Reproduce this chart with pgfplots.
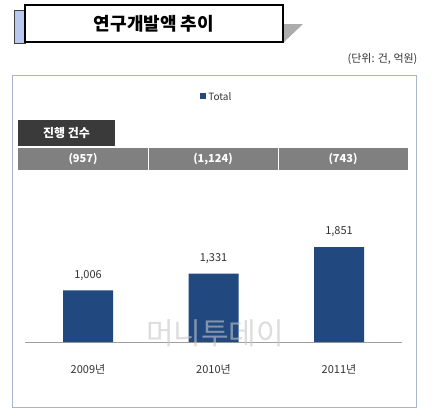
\documentclass[border=0pt]{standalone}
\usepackage{fontspec}
\setmainfont{Noto Sans CJK KR}
\usepackage{pgfplots}
\pgfplotsset{compat=1.18}
\definecolor{barblue}{RGB}{33,73,128}
\definecolor{framec}{RGB}{168,180,203}
\definecolor{titleblue}{RGB}{184,200,238}
\definecolor{darkbox}{RGB}{58,58,58}
\definecolor{rowgray}{RGB}{128,128,128}
\definecolor{txt}{RGB}{50,50,50}

\begin{document}
\begin{tikzpicture}[x=1pt,y=1pt]
\path (0,0) rectangle (432,-416);
% title box
\fill[gray!65] (283,-24) -- (303,-24) -- (283,-43) -- cycle;
\draw[fill=titleblue, draw=black!75, line width=0.8pt] (14,-10) rectangle (25,-43);
\draw[fill=white, line width=1.3pt] (25,-5) rectangle (283,-42);
\node[font=\fontsize{18}{20}\selectfont\bfseries] at (154,-24) {연구개발액 추이};
\node[anchor=east, text=black!80, font=\fontsize{11}{13}\selectfont] at (421,-59) {(단위: 건, 억원)};
% frame
\draw[framec, line width=0.8pt] (12,-75) rectangle (416,-407);
% count table
\fill[darkbox] (18,-120) rectangle (115,-146);
\node[white, font=\fontsize{12}{14}\selectfont\bfseries] at (66.5,-133) {진행 건수};
\fill[rowgray] (18,-148) rectangle (408,-170);
\draw[white, line width=1pt] (148,-148) -- (148,-170) (278,-148) -- (278,-170);
\node[white, font=\fontsize{11}{13}\selectfont\bfseries] at (83,-159) {(957)};
\node[white, font=\fontsize{11}{13}\selectfont\bfseries] at (213,-159) {(1,124)};
\node[white, font=\fontsize{11}{13}\selectfont\bfseries] at (343,-159) {(743)};

\begin{axis}[
    at={(25pt,-342pt)}, anchor=south west,
    x=125.5pt, y=0.0513pt,
    xmin=-0.502, xmax=2.502, ymin=0, ymax=2000,
    ybar, bar width=50pt,
    axis y line=none,
    axis x line*=bottom,
    x axis line style={draw=gray!75, line width=0.8pt, -},
    xtick={0,1,2},
    xticklabels={2009년,2010년,2011년},
    major tick length=0pt,
    xticklabel style={anchor=center, yshift=-27pt, text=txt, font=\fontsize{11}{13}\selectfont},
    /pgf/number format/assume math mode=true,
    /pgf/number format/1000 sep={,},
    nodes near coords,
    nodes near coords style={text=txt, font=\fontsize{11}{13}\selectfont, anchor=center, yshift=15pt},
    legend style={at={(0.509,2.388)}, anchor=center, draw=none, fill=none,
        font=\fontsize{10}{12}\selectfont, text=txt},
    clip=false,
]
\addplot[fill=barblue, draw=none,
    legend image code/.code={\fill[barblue] (0pt,-2.5pt) rectangle (6pt,3.5pt);}]
    coordinates {(0,1006) (1,1331) (2,1851)};
\addlegendentry{Total}
\end{axis}
% watermark
\node[text=gray!45, opacity=0.6, font=\fontsize{30}{30}\selectfont] at (215,-333) {머니투데이};
\end{tikzpicture}
\end{document}
